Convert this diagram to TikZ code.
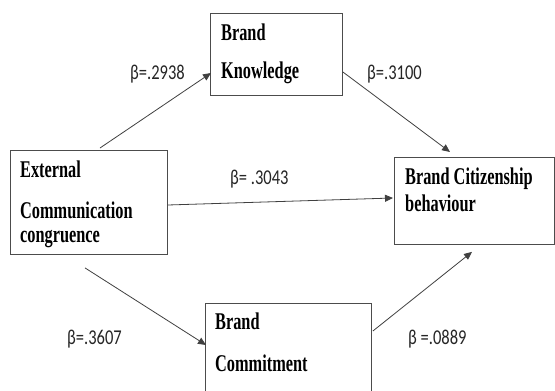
\documentclass[tikz,border=0pt]{standalone}
\usepackage{fontspec}
\setmainfont{Liberation Serif}
\newfontfamily\lblfont{Carlito}
\usetikzlibrary{arrows.meta,calc}
\newcommand{\bx}[1]{\scalebox{1.02}[1.5]{\fontsize{16}{19}\selectfont\bfseries #1}}
\newcommand{\lb}[1]{\scalebox{1}[1.28]{\lblfont\fontsize{16.5}{19}\selectfont #1}}
\begin{document}
\begin{tikzpicture}[x=1pt,y=-1pt,
  box/.style={draw=black!70, line width=0.9pt, rectangle, inner sep=0pt, anchor=north west},
  btxt/.style={inner sep=0pt, anchor=base west, text=black},
  lbl/.style={inner sep=0pt, anchor=base west, text=black!85},
  arr/.style={draw=black!75, line width=0.8pt, -{Triangle[length=8pt,width=7pt]}}]
\useasboundingbox (0,0) rectangle (555,391);
\clip (0,0) rectangle (555,391);
\fill[white] (0,0) rectangle (555,391);
% boxes
\node[box, minimum width=132pt, minimum height=82pt] (kn) at (210,13) {};
\node[box, minimum width=157pt, minimum height=104pt] (ext) at (10,150) {};
\node[box, minimum width=160pt, minimum height=87pt] (bcb) at (394,157) {};
\node[box, minimum width=166pt, minimum height=100pt] (com) at (205,303) {};
% box texts
\node[btxt] (kn1) at (221,40) {\bx{Brand}};
\node[btxt] (kn2) at (221,78) {\bx{Knowledge}};
\node[btxt] (ext1) at (20,177) {\bx{External}};
\node[btxt] (ext2) at (20,218) {\bx{Communication}};
\node[btxt] (ext3) at (20,242) {\bx{congruence}};
\node[btxt] (bcb1) at (405,184) {\bx{Brand Citizenship}};
\node[btxt] (bcb2) at (405,211) {\bx{behaviour}};
\node[btxt] (com1) at (215,329) {\bx{Brand}};
\node[btxt] (com2) at (215,371) {\bx{Commitment}};
% connectors
\draw[arr] ($(ext.north west)+(90,-2)$) -- ($(kn.north west)+(1,60)$);
\draw[arr] ($(kn.north east)+(0,59)$) -- ($(bcb.north west)+(56,-5)$);
\draw[arr] ($(ext.north east)+(0,55)$) -- ($(bcb.north west)+(-1,41)$);
\draw[arr] ($(ext.south west)+(75,13)$) -- ($(com.north west)+(1,42)$);
\draw[arr] ($(com.north east)+(1,28)$) -- ($(bcb.south west)+(78,7)$);
% labels
\node[lbl] (l1) at (130,79) {\lb{β=.2938}};
\node[lbl] (l2) at (367,79) {\lb{β=.3100}};
\node[lbl] (l3) at (230,184) {\lb{β= .3043}};
\node[lbl] (l4) at (67,344) {\lb{β=.3607}};
\node[lbl] (l5) at (408,344) {\lb{β =.0889}};
\end{tikzpicture}
\end{document}
